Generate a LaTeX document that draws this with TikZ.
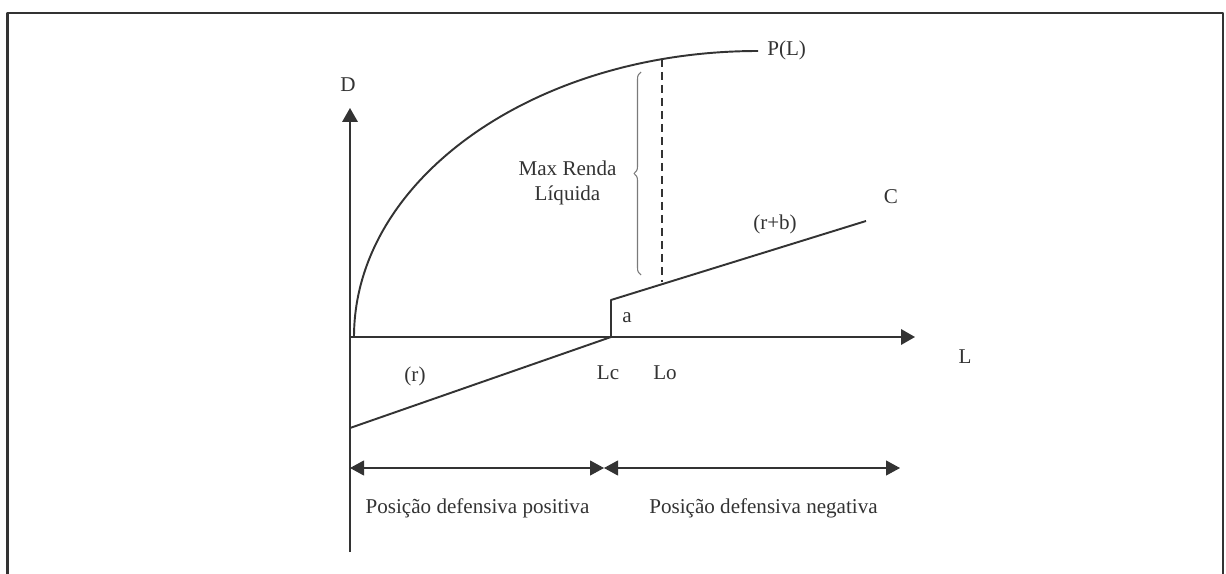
\documentclass[tikz,border=0pt]{standalone}
\usepackage{fontspec}
\setmainfont{Liberation Serif}
\usetikzlibrary{arrows.meta,decorations.pathreplacing}
\definecolor{ink}{HTML}{333333}
\definecolor{bracegray}{HTML}{7A7A7A}
\tikzset{
  axis/.style={ink, line width=1.1pt},
  curve/.style={ink, line width=1.1pt},
  span/.style={ink, line width=0.6pt, {Triangle[length=0.28cm,width=0.3cm]}-{Triangle[length=0.28cm,width=0.3cm]}},
  lbl/.style={inner sep=0pt, text=ink}
}
\begin{document}
\begin{tikzpicture}[x=0.02cm, y=-0.02cm, line join=round, font=\fontsize{12}{14.2}\selectfont, >={Triangle[length=0.28cm,width=0.31cm]}]
	\useasboundingbox (0,0) rectangle (1226,574);
	% frame (open at the bottom)
	\draw[ink, line width=1.2pt] (7.5,574) -- (7.5,13) -- (1223,13) -- (1223,574);
	% axes
	\coordinate (O) at (350,337);
	\coordinate (Dbot) at (350,552);
	\coordinate (Dtip) at (350,108);
	\coordinate (Ltip) at (915,337);
	\draw[axis, ->] (Dbot) -- (Dtip);
	\draw[axis, ->] (O) -- (Ltip);
	\node[lbl] (D) at (348,85) {D};
	\node[lbl] (L) at (965,357) {L};
	% cost lines
	\coordinate (r0) at (350,428);
	\coordinate (Lc) at (611,337);
	\coordinate (a0) at (611,300);
	\coordinate (C1) at (866,221);
	\draw[curve] (r0) -- (Lc) -- (a0) -- (C1);
	% revenue curve P(L)
	\coordinate (P0) at (354,337);
	\draw[curve] (P0) arc[start angle=180, end angle=270, x radius=404, y radius=286] coordinate (P1);
	\node[lbl, anchor=west] (PL) at (767,50) {P(L)};
	\node[lbl] (C) at (891,197) {C};
	\node[lbl] (rb) at (775,224) {(r+b)};
	\node[lbl] (r) at (415,376) {(r)};
	\node[lbl] (a) at (627,318) {a};
	\node[lbl] (Lcl) at (608,373) {Lc};
	\node[lbl] (Lo) at (665,373) {Lo};
	% max renda
	\coordinate (mTop) at (662,59);
	\coordinate (mBot) at (662,282);
	\draw[ink, line width=1pt, dash pattern=on 0.16cm off 0.1cm] (mTop) -- (mBot);
	\draw[bracegray, line width=0.6pt, decorate, decoration={brace, amplitude=0.14cm}] (641,275) -- (641,72);
	\node[lbl, align=center] (renda) at (567.5,182.5) {Max Renda\\Líquida};
	% positions
	\coordinate (s0) at (350,468);
	\coordinate (s1) at (604,468);
	\coordinate (s2) at (900,468);
	\draw[span] (s0) -- (s1);
	\draw[span] (s1) -- (s2);
	\node[lbl] (pos) at (477.5,508) {Posição defensiva positiva};
	\node[lbl] (neg) at (763.5,508) {Posição defensiva negativa};
\end{tikzpicture}
\end{document}
